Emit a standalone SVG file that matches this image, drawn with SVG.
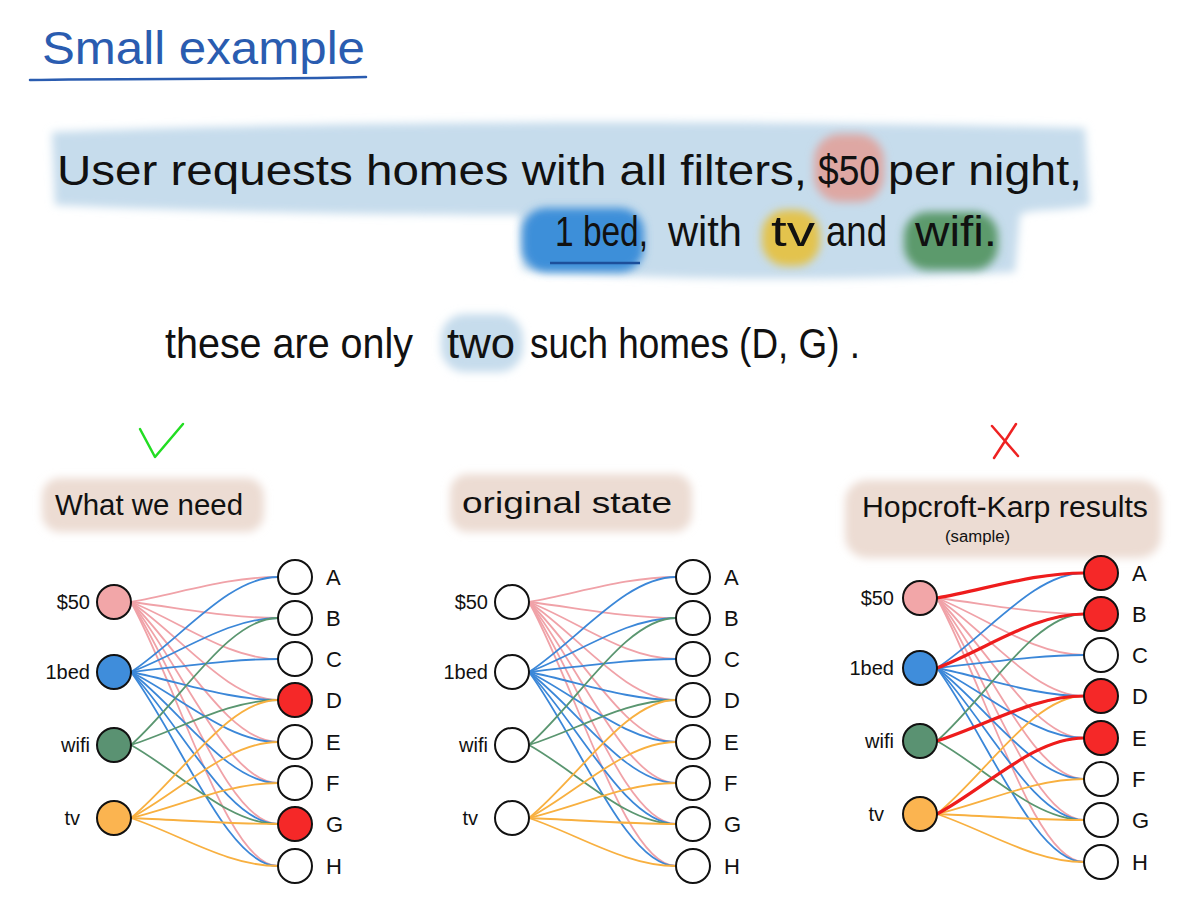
<svg xmlns="http://www.w3.org/2000/svg" xmlns:xlink="http://www.w3.org/1999/xlink" width="1200" height="900" viewBox="0 0 1200 900">
<defs>
<filter id="soft" x="-20%" y="-40%" width="140%" height="180%"><feGaussianBlur stdDeviation="4"/></filter>
<style>
.txt{font-family:"Liberation Sans","DejaVu Sans",sans-serif;fill:#111}
.big{font-size:42px}
.lbl{font-size:30px}
.nl{font-size:20px}
.nr{font-size:22px}
.node{stroke:#111;stroke-width:2;fill:#fff}
.e{fill:none;stroke-width:1.8;stroke-linecap:round}
.p{stroke:#f0a2a8}.b{stroke:#3b87d8}.g{stroke:#5a9670}.o{stroke:#f8b040}
.red{fill:none;stroke:#ee1c1c;stroke-width:3.2;stroke-linecap:round}
.wash{filter:url(#soft)}
</style>
<g id="edgeset">
<path class="e p" d="M17,0 C67,-9 114,-25 164,-25"/>
<path class="e p" d="M17,0 C67,6 114,16 164,16"/>
<path class="e p" d="M17,0 C67,20 114,57 164,57"/>
<path class="e p" d="M17,0 C67,34 114,98 164,98"/>
<path class="e p" d="M17,0 C67,49 114,140 164,140"/>
<path class="e p" d="M17,0 C67,63 114,181 164,181"/>
<path class="e p" d="M17,0 C67,78 114,222 164,222"/>
<path class="e p" d="M17,0 C67,92 114,264 164,264"/>
<path class="e b" d="M17,70 C67,37 114,-25 164,-25"/>
<path class="e b" d="M17,70 C67,51 114,16 164,16"/>
<path class="e b" d="M17,70 C67,65 114,57 164,57"/>
<path class="e b" d="M17,70 C67,80 114,98 164,98"/>
<path class="e b" d="M17,70 C67,95 114,140 164,140"/>
<path class="e b" d="M17,70 C67,109 114,181 164,181"/>
<path class="e b" d="M17,70 C67,123 114,222 164,222"/>
<path class="e b" d="M17,70 C67,138 114,264 164,264"/>
<path class="e g" d="M17,143 C67,99 114,16 164,16"/>
<path class="e g" d="M17,143 C67,127 114,98 164,98"/>
<path class="e g" d="M17,143 C67,171 114,222 164,222"/>
<path class="e o" d="M17,216 C67,175 114,98 164,98"/>
<path class="e o" d="M17,216 C67,189 114,140 164,140"/>
<path class="e o" d="M17,216 C67,204 114,181 164,181"/>
<path class="e o" d="M17,216 C67,218 114,222 164,222"/>
<path class="e o" d="M17,216 C67,233 114,264 164,264"/>
</g>
</defs>
<rect width="1200" height="900" fill="#fff"/>

<g id="title">
<text class="txt" x="42" y="64" font-size="46" style="fill:#2a5cb0" textLength="323" lengthAdjust="spacingAndGlyphs">Small example</text>
<path d="M30,80 C120,78 250,80 366,77" fill="none" stroke="#2a5cb0" stroke-width="2.5" stroke-linecap="round"/>
</g>

<g id="request">
<path class="wash" fill="#c6dcec" d="M52,132 C300,122 700,118 1085,128 L1090,205 C1060,212 1030,208 1020,215 L1015,272 C850,282 650,280 522,270 L520,215 C400,215 200,212 55,205 Z"/>
<rect class="wash" x="814" y="134" width="70" height="68" rx="26" fill="#dea7a3"/>
<rect class="wash" x="522" y="208" width="122" height="64" rx="24" fill="#3d8fd9"/>
<rect class="wash" x="762" y="210" width="58" height="56" rx="24" fill="#e3c34e"/>
<rect class="wash" x="904" y="212" width="94" height="58" rx="24" fill="#5b9a6c"/>
<line x1="550" y1="263" x2="640" y2="263" stroke="#1d4f9a" stroke-width="2.5"/>
<text class="txt big" x="57" y="185" textLength="750" lengthAdjust="spacingAndGlyphs">User requests homes with all filters,</text>
<text class="txt big" x="818" y="185" textLength="62" lengthAdjust="spacingAndGlyphs">$50</text>
<text class="txt big" x="888" y="185" textLength="194" lengthAdjust="spacingAndGlyphs">per night,</text>
<text class="txt big" x="555" y="246" textLength="93" lengthAdjust="spacingAndGlyphs">1 bed,</text>
<text class="txt big" x="668" y="246" textLength="74" lengthAdjust="spacingAndGlyphs">with</text>
<text class="txt big" x="771" y="246" textLength="44" lengthAdjust="spacingAndGlyphs">tv</text>
<text class="txt big" x="826" y="246" textLength="61" lengthAdjust="spacingAndGlyphs">and</text>
<text class="txt big" x="915" y="246" textLength="82" lengthAdjust="spacingAndGlyphs">wifi.</text>
</g>

<g id="note">
<rect class="wash" x="441" y="314" width="82" height="58" rx="24" fill="#c6dcec"/>
<text class="txt big" x="165" y="358" textLength="248" lengthAdjust="spacingAndGlyphs">these are only</text>
<text class="txt big" x="447" y="358" textLength="68" lengthAdjust="spacingAndGlyphs">two</text>
<text class="txt big" x="530" y="358" textLength="330" lengthAdjust="spacingAndGlyphs">such homes (D, G) .</text>
</g>

<g id="marks">
<polyline points="140,429 155,457 183,424" fill="none" stroke="#22dd22" stroke-width="2.5" stroke-linecap="round" stroke-linejoin="round"/>
<path d="M992,426 L1018,456 M1016,424 L994,458" fill="none" stroke="#ee2222" stroke-width="2.5" stroke-linecap="round"/>
</g>

<g id="headings">
<rect class="wash" x="42" y="478" width="222" height="54" rx="18" fill="#ecdcd3"/>
<rect class="wash" x="450" y="474" width="242" height="58" rx="18" fill="#ecdcd3"/>
<rect class="wash" x="845" y="480" width="316" height="78" rx="22" fill="#ecdcd3"/>
<text class="txt lbl" x="55" y="515" textLength="188" lengthAdjust="spacingAndGlyphs">What we need</text>
<text class="txt lbl" x="462" y="513" textLength="210" lengthAdjust="spacingAndGlyphs">original state</text>
<text class="txt lbl" x="862" y="517" textLength="286" lengthAdjust="spacingAndGlyphs">Hopcroft-Karp results</text>
<text class="txt" x="945" y="542" font-size="16" textLength="65" lengthAdjust="spacingAndGlyphs">(sample)</text>
</g>

<g id="connectors">
<use href="#edgeset" xlink:href="#edgeset" transform="translate(114,602)"/>
<use href="#edgeset" xlink:href="#edgeset" transform="translate(512,602)"/>
<use href="#edgeset" xlink:href="#edgeset" transform="translate(920,598)"/>
<g transform="translate(920,598)">
<path class="red" d="M17,0 C67,-9 114,-25 164,-25"/>
<path class="red" d="M17,70 C67,51 114,16 164,16"/>
<path class="red" d="M17,143 C67,127 114,98 164,98"/>
<path class="red" d="M17,216 C67,189 114,140 164,140"/>
</g>
</g>

<g id="graph1" transform="translate(114,602)">
<g id="g1-p50"><circle class="node" cx="0" cy="0" r="17" style="fill:#f2a6a8"/><text class="txt nl" x="-24" y="7" text-anchor="end">$50</text></g>
<g id="g1-bed"><circle class="node" cx="0" cy="70" r="17" style="fill:#3f8ddb"/><text class="txt nl" x="-24" y="77" text-anchor="end">1bed</text></g>
<g id="g1-wifi"><circle class="node" cx="0" cy="143" r="17" style="fill:#5a9272"/><text class="txt nl" x="-24" y="150" text-anchor="end">wifi</text></g>
<g id="g1-tv"><circle class="node" cx="0" cy="216" r="17" style="fill:#fbb450"/><text class="txt nl" x="-34" y="223" text-anchor="end">tv</text></g>
<g id="g1-A"><circle class="node" cx="181" cy="-25" r="17"/><text class="txt nr" x="212" y="-17">A</text></g>
<g id="g1-B"><circle class="node" cx="181" cy="16" r="17"/><text class="txt nr" x="212" y="24">B</text></g>
<g id="g1-C"><circle class="node" cx="181" cy="57" r="17"/><text class="txt nr" x="212" y="65">C</text></g>
<g id="g1-D"><circle class="node" cx="181" cy="98" r="17" style="fill:#f52828"/><text class="txt nr" x="212" y="106">D</text></g>
<g id="g1-E"><circle class="node" cx="181" cy="140" r="17"/><text class="txt nr" x="212" y="148">E</text></g>
<g id="g1-F"><circle class="node" cx="181" cy="181" r="17"/><text class="txt nr" x="212" y="189">F</text></g>
<g id="g1-G"><circle class="node" cx="181" cy="222" r="17" style="fill:#f52828"/><text class="txt nr" x="212" y="230">G</text></g>
<g id="g1-H"><circle class="node" cx="181" cy="264" r="17"/><text class="txt nr" x="212" y="272">H</text></g>
</g>

<g id="graph2" transform="translate(512,602)">
<g id="g2-p50"><circle class="node" cx="0" cy="0" r="17"/><text class="txt nl" x="-24" y="7" text-anchor="end">$50</text></g>
<g id="g2-bed"><circle class="node" cx="0" cy="70" r="17"/><text class="txt nl" x="-24" y="77" text-anchor="end">1bed</text></g>
<g id="g2-wifi"><circle class="node" cx="0" cy="143" r="17"/><text class="txt nl" x="-24" y="150" text-anchor="end">wifi</text></g>
<g id="g2-tv"><circle class="node" cx="0" cy="216" r="17"/><text class="txt nl" x="-34" y="223" text-anchor="end">tv</text></g>
<g id="g2-A"><circle class="node" cx="181" cy="-25" r="17"/><text class="txt nr" x="212" y="-17">A</text></g>
<g id="g2-B"><circle class="node" cx="181" cy="16" r="17"/><text class="txt nr" x="212" y="24">B</text></g>
<g id="g2-C"><circle class="node" cx="181" cy="57" r="17"/><text class="txt nr" x="212" y="65">C</text></g>
<g id="g2-D"><circle class="node" cx="181" cy="98" r="17"/><text class="txt nr" x="212" y="106">D</text></g>
<g id="g2-E"><circle class="node" cx="181" cy="140" r="17"/><text class="txt nr" x="212" y="148">E</text></g>
<g id="g2-F"><circle class="node" cx="181" cy="181" r="17"/><text class="txt nr" x="212" y="189">F</text></g>
<g id="g2-G"><circle class="node" cx="181" cy="222" r="17"/><text class="txt nr" x="212" y="230">G</text></g>
<g id="g2-H"><circle class="node" cx="181" cy="264" r="17"/><text class="txt nr" x="212" y="272">H</text></g>
</g>

<g id="graph3" transform="translate(920,598)">
<g id="g3-p50"><circle class="node" cx="0" cy="0" r="17" style="fill:#f2a6a8"/><text class="txt nl" x="-26" y="7" text-anchor="end">$50</text></g>
<g id="g3-bed"><circle class="node" cx="0" cy="70" r="17" style="fill:#3f8ddb"/><text class="txt nl" x="-26" y="77" text-anchor="end">1bed</text></g>
<g id="g3-wifi"><circle class="node" cx="0" cy="143" r="17" style="fill:#5a9272"/><text class="txt nl" x="-26" y="150" text-anchor="end">wifi</text></g>
<g id="g3-tv"><circle class="node" cx="0" cy="216" r="17" style="fill:#fbb450"/><text class="txt nl" x="-36" y="223" text-anchor="end">tv</text></g>
<g id="g3-A"><circle class="node" cx="181" cy="-25" r="17" style="fill:#f52828"/><text class="txt nr" x="212" y="-17">A</text></g>
<g id="g3-B"><circle class="node" cx="181" cy="16" r="17" style="fill:#f52828"/><text class="txt nr" x="212" y="24">B</text></g>
<g id="g3-C"><circle class="node" cx="181" cy="57" r="17"/><text class="txt nr" x="212" y="65">C</text></g>
<g id="g3-D"><circle class="node" cx="181" cy="98" r="17" style="fill:#f52828"/><text class="txt nr" x="212" y="106">D</text></g>
<g id="g3-E"><circle class="node" cx="181" cy="140" r="17" style="fill:#f52828"/><text class="txt nr" x="212" y="148">E</text></g>
<g id="g3-F"><circle class="node" cx="181" cy="181" r="17"/><text class="txt nr" x="212" y="189">F</text></g>
<g id="g3-G"><circle class="node" cx="181" cy="222" r="17"/><text class="txt nr" x="212" y="230">G</text></g>
<g id="g3-H"><circle class="node" cx="181" cy="264" r="17"/><text class="txt nr" x="212" y="272">H</text></g>
</g>
</svg>
